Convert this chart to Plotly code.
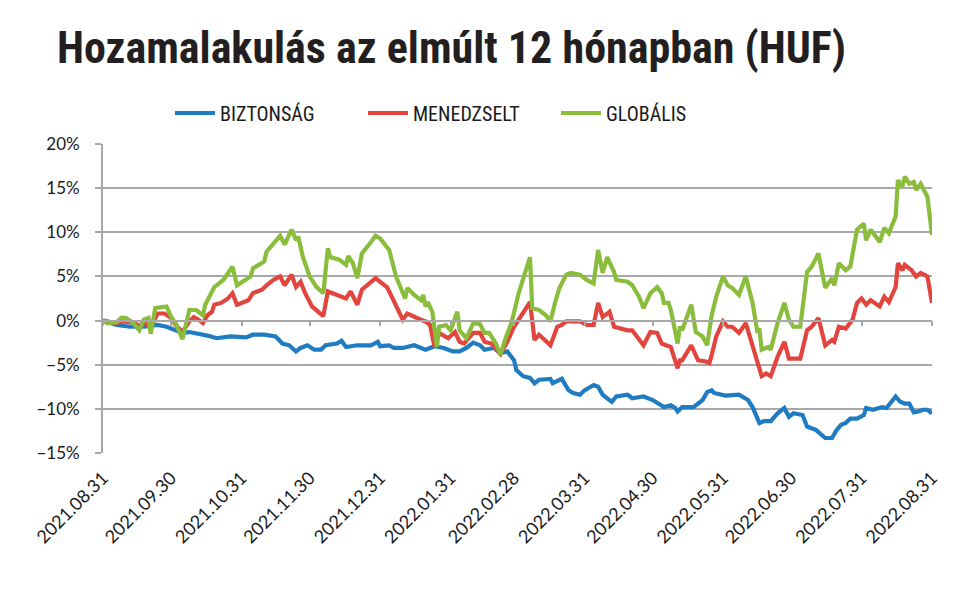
import plotly.graph_objects as go
import pandas as pd

START = "2021-08-31"
END = "2022-08-31"

tick_dates = ["2021-08-31", "2021-09-30", "2021-10-31", "2021-11-30", "2021-12-31",
              "2022-01-31", "2022-02-28", "2022-03-31", "2022-04-30", "2022-05-31",
              "2022-06-30", "2022-07-31", "2022-08-31"]
tick_labels = ["2021.08.31", "2021.09.30", "2021.10.31", "2021.11.30", "2021.12.31",
               "2022.01.31", "2022.02.28", "2022.03.31", "2022.04.30", "2022.05.31",
               "2022.06.30", "2022.07.31", "2022.08.31"]

# days since 2021-08-31, and cumulative return in %
biz_days = [0, 6, 12, 18, 24, 28, 32, 35, 38, 43, 46, 50, 56, 63, 66, 71, 76, 79, 82, 85,
            87, 90, 93, 96, 98, 103, 105, 107, 112, 118, 121, 122, 126, 128, 132, 137, 142,
            146, 150, 154, 157, 160, 163, 166, 168, 172, 175, 178, 181, 182, 185, 188, 190,
            192, 197, 198, 202, 205, 207, 210, 212, 216, 218, 220, 224, 226, 231, 233, 238,
            242, 247, 250, 252, 253, 255, 260, 264, 266, 268, 269, 274, 280, 284, 286, 289,
            291, 294, 297, 300, 302, 304, 308, 310, 314, 315, 318, 321, 323, 325, 327, 329,
            332, 335, 336, 339, 343, 345, 349, 351, 353, 355, 357, 359, 361, 363, 365]
biz_vals = [0.0, -0.5, -0.7, -0.7, -0.5, -0.7, -1.1, -1.4, -1.3, -1.5, -1.7, -2.0, -1.8, -1.9,
            -1.6, -1.6, -1.8, -2.6, -2.8, -3.5, -3.1, -2.8, -3.3, -3.3, -2.8, -2.6, -2.3, -3.0,
            -2.8, -2.8, -2.4, -2.9, -2.8, -3.1, -3.1, -2.8, -3.3, -2.9, -3.1, -3.5, -3.5, -3.1,
            -2.5, -2.8, -3.3, -3.1, -3.7, -3.5, -4.5, -5.6, -6.3, -6.5, -7.1, -6.7, -6.6, -7.1,
            -6.6, -7.9, -8.2, -8.4, -7.9, -7.3, -7.5, -8.4, -9.2, -8.6, -8.4, -8.8, -8.6, -9.0,
            -9.8, -9.6, -9.9, -10.3, -9.8, -9.8, -9.0, -8.1, -7.9, -8.2, -8.5, -8.4, -9.0, -9.8,
            -11.6, -11.4, -11.4, -10.5, -9.9, -10.9, -10.5, -10.7, -12.0, -12.4, -12.6, -13.3,
            -13.3, -12.4, -11.8, -11.6, -11.1, -11.1, -10.7, -9.9, -10.1, -9.8, -9.9, -8.6,
            -9.2, -9.4, -9.4, -10.4, -10.3, -10.1, -10.1, -10.5]

men_days = [0, 6, 9, 13, 16, 18, 21, 24, 27, 30, 32, 35, 38, 40, 42, 44, 46, 48, 49, 52, 55,
            57, 59, 64, 66, 70, 72, 75, 78, 80, 83, 85, 87, 89, 92, 95, 97, 99, 101, 104, 107,
            109, 112, 114, 117, 120, 122, 125, 126, 129, 132, 134, 137, 140, 142, 144, 146,
            148, 152, 155, 157, 159, 163, 166, 168, 171, 175, 178, 181, 185, 188, 190, 192,
            197, 200, 202, 204, 206, 210, 213, 216, 218, 220, 223, 225, 231, 233, 238, 241,
            244, 246, 250, 253, 254, 255, 259, 262, 265, 267, 268, 270, 273, 275, 277, 280,
            283, 286, 288, 290, 292, 294, 297, 300, 302, 307, 310, 312, 315, 318, 321, 322,
            324, 327, 330, 332, 334, 336, 338, 342, 344, 346, 349, 350, 352, 353, 356, 358,
            360, 363, 365]
men_vals = [0.0, -0.3, -0.1, -0.2, -0.6, -0.2, -0.8, 0.8, 0.8, 0.3, -0.5, -1.3, -0.1, 0.4,
            0.1, -0.3, 0.6, 1.0, 1.8, 2.0, 2.5, 3.1, 1.8, 2.3, 3.1, 3.5, 4.0, 4.6, 5.0, 4.0,
            5.2, 3.8, 4.4, 3.1, 1.6, 1.0, 0.5, 3.3, 3.1, 2.9, 2.5, 3.3, 1.8, 3.5, 4.2, 4.8,
            4.4, 3.8, 3.3, 1.6, 0.1, 0.8, 0.4, 0.1, -0.1, -0.5, -3.0, -1.4, -2.0, -1.3, -2.4,
            -2.6, -1.4, -1.4, -2.4, -2.6, -3.8, -2.4, -0.7, 0.8, 2.1, -2.2, -1.6, -2.8, -0.7,
            -0.5, -0.1, -0.1, -0.1, -0.5, -0.5, 2.0, 0.4, 1.0, -0.7, -1.1, -1.1, -2.8, -1.3,
            -1.4, -2.6, -3.0, -5.4, -4.5, -4.5, -2.8, -4.5, -4.6, -4.8, -3.9, -1.8, -0.1, -0.7,
            -0.7, -1.4, -0.3, -3.0, -4.8, -6.3, -6.0, -6.3, -4.1, -2.4, -4.3, -4.3, -1.1, -0.7,
            0.3, -2.8, -2.2, -2.4, -0.7, -0.9, 0.1, 2.0, 2.5, 1.8, 2.3, 1.6, 2.7, 2.1, 3.8, 6.5,
            5.7, 6.3, 5.7, 5.0, 5.4, 5.0, 2.0]

glob_days = [0, 2, 6, 8, 10, 13, 16, 18, 20, 21, 23, 28, 30, 32, 35, 38, 41, 44, 45, 49, 53,
             57, 59, 65, 66, 71, 72, 76, 78, 80, 83, 85, 86, 88, 91, 94, 97, 99, 100, 104, 107,
             108, 110, 112, 114, 118, 120, 122, 124, 126, 129, 131, 133, 134, 137, 140, 141,
             142, 143, 145, 146, 147, 148, 151, 153, 156, 157, 160, 163, 166, 168, 170, 173,
             175, 177, 180, 183, 185, 188, 189, 192, 195, 197, 199, 201, 204, 206, 210, 213,
             216, 218, 220, 222, 225, 226, 231, 233, 236, 238, 241, 244, 246, 247, 249, 250,
             253, 254, 255, 259, 261, 264, 266, 268, 270, 273, 275, 277, 280, 283, 286, 288,
             289, 290, 293, 294, 297, 300, 302, 304, 307, 310, 312, 315, 318, 321, 322, 324,
             327, 329, 332, 334, 335, 336, 338, 342, 344, 346, 349, 350, 352, 353, 355, 357,
             358, 360, 362, 363, 365]
glob_vals = [0.0, -0.3, -0.2, 0.3, 0.3, -0.2, -1.1, 0.1, 0.3, -1.5, 1.4, 1.6, 0.4, -0.3,
             -2.1, 1.2, 1.2, 0.6, 1.8, 3.8, 4.6, 6.1, 4.0, 5.0, 5.9, 6.7, 7.8, 9.1, 9.6, 8.6,
             10.3, 9.1, 9.5, 7.2, 5.0, 3.8, 3.1, 8.2, 7.2, 6.9, 6.3, 7.3, 6.5, 4.8, 7.6, 8.9,
             9.6, 9.3, 8.6, 8.0, 5.0, 3.8, 2.5, 3.7, 2.9, 2.3, 2.9, 1.6, 2.1, 1.0, -1.1, -3.0,
             -0.7, -0.5, -1.1, 1.0, -1.1, -2.0, -0.3, -0.4, -1.4, -1.4, -2.6, -3.9, -2.2, -0.1,
             3.1, 4.6, 7.2, 1.4, 1.2, 0.6, -0.1, 2.0, 3.7, 5.2, 5.4, 5.2, 4.6, 4.2, 8.0, 5.4,
             7.2, 5.5, 4.6, 4.4, 4.0, 2.7, 1.4, 3.1, 3.8, 3.1, 2.0, 2.0, 1.2, -2.6, -0.7, -1.1,
             1.8, -1.3, -1.8, -2.8, 0.6, 2.7, 5.0, 4.0, 3.7, 2.9, 5.0, 2.0, -1.1, -0.9, -3.3,
             -3.0, -3.3, -0.3, 2.0, 0.1, -0.7, -0.7, 5.5, 6.1, 7.6, 3.7, 4.8, 4.0, 6.5, 5.7,
             6.1, 10.3, 10.8, 11.0, 9.1, 10.3, 8.9, 10.5, 9.9, 11.8, 15.9, 15.2, 16.3, 15.5,
             15.7, 14.8, 15.5, 14.6, 14.0, 9.7]

series_names = ["BIZTONSÁG", "MENEDZSELT", "GLOBÁLIS"]
series_colors = ["#1f7bc2", "#e2443e", "#8bbd3c"]

TITLE = "Hozamalakulás az elmúlt 12 hónapban (HUF)"


def to_dates(days):
    base = pd.Timestamp(START)
    return [base + pd.Timedelta(days=d) for d in days]


GRID = "#a8a8a8"
YTICKFONT = dict(family="Lato, 'Open Sans', sans-serif", size=17, color="#1a1a1a")
XTICKFONT = dict(family="Lato, 'Open Sans', sans-serif", size=18, color="#1a1a1a")
NARROW = "'Liberation Sans Narrow', 'Roboto Condensed', Roboto, sans-serif"

fig = go.Figure()
for name, color, days, vals in zip(series_names, series_colors,
                                   [biz_days, men_days, glob_days],
                                   [biz_vals, men_vals, glob_vals]):
    fig.add_trace(go.Scatter(x=to_dates(days), y=vals, mode="lines", name=name,
                             line=dict(color=color, width=4.2)))

# dummy trace to carry the zero-line axis with month ticks
fig.add_trace(go.Scatter(x=[START, END], y=[None, None], xaxis="x2", showlegend=False,
                         hoverinfo="skip", mode="lines"))

fig.update_layout(
    width=980, height=591,
    margin=dict(l=103, r=48, t=144, b=138, pad=0, autoexpand=False),
    paper_bgcolor="white", plot_bgcolor="white",
    title=dict(text=TITLE, x=57 / 980, xanchor="left", xref="container",
               y=1 - 48 / 591, yanchor="middle", yref="container",
               font=dict(family=NARROW, size=44, color="#231f20", weight="bold")),
    legend=dict(orientation="h", x=(170 - 103) / 829, xanchor="left", xref="paper",
                y=1 + (144 - 113) / 309, yanchor="middle", yref="paper",
                font=dict(family=NARROW, size=20, color="#1a1a1a"),
                itemwidth=40, entrywidth=138, traceorder="normal"),
    showlegend=True,
    xaxis=dict(type="date", range=[START, END], tickvals=tick_dates, ticktext=tick_labels,
               tickangle=-45, showgrid=False, showline=False, zeroline=False, ticks="",
               tickfont=XTICKFONT, ticklabelstandoff=10, automargin=False),
    xaxis2=dict(type="date", range=[START, END], overlaying="x", anchor="free",
                position=15 / 35, tickvals=tick_dates, showticklabels=False,
                ticks="outside", ticklen=5, tickcolor=GRID, tickwidth=1.5,
                showline=True, linecolor=GRID, linewidth=1.8, showgrid=False, zeroline=False),
    yaxis=dict(range=[-15, 20], tick0=0, dtick=5, ticksuffix="%", showgrid=True,
               gridcolor=GRID, gridwidth=1.8, zeroline=False, showline=True,
               linecolor=GRID, linewidth=1.8, ticks="outside", ticklen=6, tickcolor=GRID,
               tickwidth=1.5, tickfont=YTICKFONT, ticklabelstandoff=12, automargin=False),
)

fig.write_html("out.html")
